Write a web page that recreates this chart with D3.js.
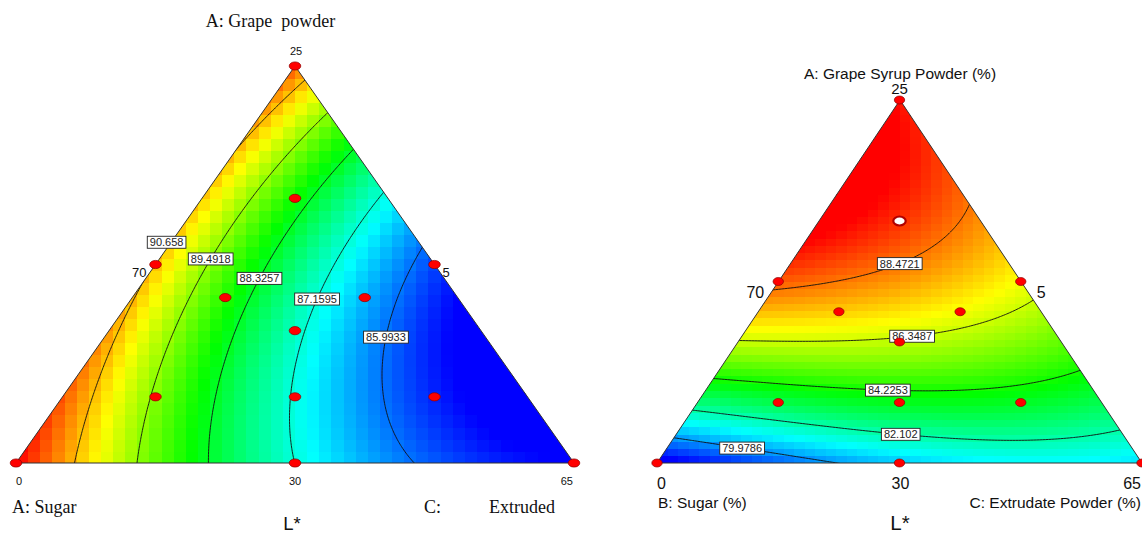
<!DOCTYPE html>
<html>
<head>
<meta charset="utf-8">
<title>L* ternary contour plots</title>
<script src="https://cdn.jsdelivr.net/npm/d3@7/dist/d3.min.js"></script>
<style>
  html, body { margin: 0; padding: 0; background: #fff; }
  svg { display: block; }
  text { white-space: pre; }
</style>
</head>
<body>
<svg id="chart" width="1142" height="533"></svg>
<script>
// ---------------- data ----------------
const responseName = "L*";
const titlesLeft = ["A: Grape  powder", "A: Sugar", "C:", "Extruded"];
const titlesRight = ["A: Grape Syrup Powder (%)", "B: Sugar (%)", "C: Extrudate Powder (%)"];

// vertex / edge-midpoint axis labels and their mixture position (A, C)
const tickText = ["25", "70", "5", "0", "30", "65"];
const tickA = [1, 0.5, 0.5, 0, 0, 0];
const tickC = [0, 0, 0.5, 0, 0.5, 1];

// mixture design runs (fractions of A and C, B is the remainder)
const designA = [1, 0.5, 0.5, 2/3, 5/12, 5/12, 1/3, 1/6, 1/6, 1/6, 0, 0, 0];
const designC = [0, 0, 0.5, 1/6, 1/6, 5/12, 1/3, 1/6, 5/12, 2/3, 0, 0.5, 1];
const openRunsRight = [3];

// contour levels
const levelsLeft = [90.658, 89.4918, 88.3257, 87.1595, 85.9933];
const levelsRight = [88.4721, 86.3487, 84.2253, 82.102, 79.9786];

// contour label placement (fractions of A and C)
const labelALeft = [0.556, 0.514, 0.465, 0.413, 0.317];
const labelCLeft = [0.0, 0.094, 0.204, 0.332, 0.505];
const labelARight = [0.563, 0.366, 0.214, 0.095, 0.053];
const labelCRight = [0.219, 0.343, 0.369, 0.455, 0.149];

// Scheffé cubic mixture model terms:
// A, B, C, AB, AC, BC, AB(A-B), AC(A-C), BC(B-C), ABC
const coefLeft = [91.199, 91.872, 85.277, -3.731, -10.123, -5.675, -0.700, 0.474, 0.139, 0.939];
const coefRight = [89.603, 77.821, 80.814, 20.145, 6.513, 4.819, -0.655, 0.754, -1.310, -1.473];

// response range spread over the colour ramp
const rampLeft = [85.26, 91.88];
const rampRight = [78.3, 89.8];

// ---------------- helpers ----------------
const svg = d3.select("#chart");
const ramp = ["#0000ff", "#00ffff", "#00ff00", "#ffff00", "#ff0000"];

function model(k, a, b, c) {
  const f = [a, b, c, a*b, a*c, b*c, a*b*(a-b), a*c*(a-c), b*c*(b-c), a*b*c];
  let s = 0;
  for (let i = 0; i < f.length; i++) s += k[i] * f[i];
  return s;
}

// ternary layout: A at the apex, B bottom-left, C bottom-right
function geometry(top, bl, br) {
  const xs = d3.scaleLinear().domain([0, 1]).range([bl[0], br[0]]);
  const ys = d3.scaleLinear().domain([0, 1]).range([bl[1], top[1]]);
  const proj = (a, c) => [xs(c + a / 2), ys(a)];
  const inv = (x, y) => { const a = ys.invert(y); const c = xs.invert(x) - a / 2; return [a, 1 - a - c, c]; };
  return {xs, ys, proj, inv, top, bl, br};
}

function drawPanel(cfg) {
  const g = cfg.g;
  const root = svg.append("g");
  const clipId = "clip-" + cfg.name;
  const triPts = [g.top, g.bl, g.br];
  root.append("clipPath").attr("id", clipId)
    .append("polygon").attr("points", triPts.map(p => p.join(",")).join(" "));

  const color = d3.scaleLinear()
    .domain(d3.range(5).map(i => cfg.ramp[0] + i * (cfg.ramp[1] - cfg.ramp[0]) / 4))
    .range(ramp).clamp(true);

  // shaded response cells
  const cells = [];
  const nx = Math.ceil((g.br[0] - g.bl[0]) / cfg.cellW);
  const ny = Math.ceil((g.bl[1] - g.top[1]) / cfg.cellH);
  for (let j = 0; j < ny; j++) for (let i = 0; i < nx; i++) {
    const x = g.bl[0] + i * cfg.cellW, y = g.bl[1] - (j + 1) * cfg.cellH;
    const v = model(cfg.coef, ...g.inv(x + cfg.cellW / 2, y + cfg.cellH / 2));
    cells.push({x, y, v});
  }
  const fillG = root.append("g").attr("clip-path", `url(#${clipId})`);
  fillG.selectAll("rect").data(cells).join("rect")
    .attr("x", d => d.x).attr("y", d => d.y)
    .attr("width", cfg.cellW + 0.6).attr("height", cfg.cellH + 0.6)
    .attr("fill", d => color(d.v))
    .attr("shape-rendering", "crispEdges");

  // contour lines
  const step = 1.5, m = 12;
  const x0 = g.bl[0] - m, y0 = g.top[1] - m;
  const gx = Math.ceil((g.br[0] - g.bl[0] + 2 * m) / step) + 1;
  const gy = Math.ceil((g.bl[1] - g.top[1] + 2 * m) / step) + 1;
  const vals = new Float64Array(gx * gy);
  for (let j = 0; j < gy; j++) for (let i = 0; i < gx; i++)
    vals[j * gx + i] = model(cfg.coef, ...g.inv(x0 + i * step, y0 + j * step));
  const contours = d3.contours().size([gx, gy]).thresholds(cfg.levels)(vals);
  const tr = d3.geoTransform({ point(x, y) { this.stream.point(x0 + (x - 0.5) * step, y0 + (y - 0.5) * step); } });
  fillG.append("g").selectAll("path").data(contours).join("path")
    .attr("d", d3.geoPath(tr))
    .attr("fill", "none").attr("stroke", "#111").attr("stroke-width", 0.9);

  // triangle outline
  root.append("polygon").attr("points", triPts.map(p => p.join(",")).join(" "))
    .attr("fill", "none").attr("stroke", "#333").attr("stroke-width", 1);

  // contour labels, snapped onto their line
  const valAt = (x, y) => model(cfg.coef, ...g.inv(x, y));
  cfg.levels.forEach((lv, i) => {
    const [px, py] = g.proj(cfg.labelA[i], cfg.labelC[i]);
    let best = null;
    [[1, 0], [0, 1]].forEach(([dx, dy]) => {
      let prevT = -25, prev = valAt(px - 25 * dx, py - 25 * dy) - lv;
      for (let t = -24.5; t <= 25; t += 0.5) {
        const cur = valAt(px + t * dx, py + t * dy) - lv;
        if ((prev <= 0 && cur > 0) || (prev >= 0 && cur < 0)) {
          const tt = prevT + (t - prevT) * prev / (prev - cur);
          if (!best || Math.abs(tt) < best.d) best = {d: Math.abs(tt), x: px + tt * dx, y: py + tt * dy};
        }
        prev = cur; prevT = t;
      }
    });
    const lx = best ? best.x : px, ly = best ? best.y : py;
    const lg = root.append("g").attr("transform", `translate(${lx},${ly})`);
    const rect = lg.append("rect");
    const t = lg.append("text").text(String(lv))
      .attr("text-anchor", "middle").attr("dy", "0.36em")
      .attr("font-family", "Liberation Sans, Arial, sans-serif").attr("font-size", 11)
      .attr("fill", "#222");
    const w = t.node().getComputedTextLength() + 5;
    rect.attr("x", -w / 2).attr("y", -6).attr("width", w).attr("height", 12)
      .attr("fill", "#fff").attr("stroke", "#222").attr("stroke-width", 0.9);
  });

  // design runs
  const runs = designA.map((a, i) => ({a, c: designC[i], open: cfg.open.includes(i)}));
  root.append("g").selectAll("ellipse").data(runs).join("ellipse")
    .attr("cx", d => g.proj(d.a, d.c)[0]).attr("cy", d => g.proj(d.a, d.c)[1])
    .attr("rx", d => d.open ? 6.2 : cfg.dot[0]).attr("ry", d => d.open ? 4.5 : cfg.dot[1])
    .attr("fill", d => d.open ? "#fff" : "#ff0000")
    .attr("stroke", d => d.open ? "#b00000" : "#8b0000")
    .attr("stroke-width", d => d.open ? 2.2 : 0.7);

  // vertex / midpoint labels
  tickText.forEach((s, i) => {
    const [px, py] = g.proj(tickA[i], tickC[i]);
    const o = cfg.tickStyle[i];
    root.append("text").text(s)
      .attr("x", px + o.dx).attr("y", py + o.dy)
      .attr("text-anchor", o.anchor)
      .attr("font-family", "Liberation Sans, Arial, sans-serif")
      .attr("font-size", o.size).attr("fill", "#111");
  });
  return root;
}

// ---------------- panels ----------------
const gLeft = geometry([295, 66], [16, 463], [574, 463]);
const gRight = geometry([900, 100], [657, 463], [1142, 463]);

drawPanel({
  name: "left", g: gLeft, coef: coefLeft, ramp: rampLeft, levels: levelsLeft,
  labelA: labelALeft, labelC: labelCLeft, open: [], cellW: 558 / 46, cellH: 397 / 33,
  dot: [5.8, 4.1],
  tickStyle: [
    {dx: 1, dy: -11, anchor: "middle", size: 11},
    {dx: -9, dy: 12, anchor: "end", size: 13},
    {dx: 8, dy: 12, anchor: "start", size: 13},
    {dx: 0, dy: 22, anchor: "start", size: 11},
    {dx: 0, dy: 22, anchor: "middle", size: 11},
    {dx: -1, dy: 22, anchor: "end", size: 11}
  ]
});
drawPanel({
  name: "right", g: gRight, coef: coefRight, ramp: rampRight, levels: levelsRight,
  labelA: labelARight, labelC: labelCRight, open: openRunsRight, cellW: 485 / 46, cellH: 363 / 50,
  dot: [5.2, 4],
  tickStyle: [
    {dx: 0, dy: -6.5, anchor: "middle", size: 15},
    {dx: -14, dy: 16, anchor: "end", size: 16},
    {dx: 16, dy: 16, anchor: "start", size: 16},
    {dx: 0, dy: 26, anchor: "start", size: 16},
    {dx: 1, dy: 26, anchor: "middle", size: 16},
    {dx: -1, dy: 26, anchor: "end", size: 16}
  ]
});

// ---------------- axis titles ----------------
const serif = "Liberation Serif, Times New Roman, serif";
const sans = "Liberation Sans, Arial, sans-serif";
svg.append("text").text(titlesLeft[0]).attr("x", 270.5).attr("y", 27)
  .attr("text-anchor", "middle").attr("font-family", serif).attr("font-size", 18).attr("fill", "#111");
svg.append("text").text(titlesLeft[1]).attr("x", 12).attr("y", 513)
  .attr("font-family", serif).attr("font-size", 18).attr("fill", "#111");
svg.append("text").text(titlesLeft[2]).attr("x", 424).attr("y", 513)
  .attr("font-family", serif).attr("font-size", 18).attr("fill", "#111");
svg.append("text").text(titlesLeft[3]).attr("x", 489).attr("y", 513)
  .attr("font-family", serif).attr("font-size", 18).attr("fill", "#111");
svg.append("text").text(responseName).attr("x", 292).attr("y", 530)
  .attr("text-anchor", "middle").attr("font-family", sans).attr("font-size", 18.5).attr("fill", "#111");

svg.append("text").text(titlesRight[0]).attr("x", 900).attr("y", 78.5)
  .attr("text-anchor", "middle").attr("font-family", sans).attr("font-size", 15.5).attr("fill", "#111");
svg.append("text").text(titlesRight[1]).attr("x", 658).attr("y", 508)
  .attr("font-family", sans).attr("font-size", 15.5).attr("fill", "#111");
svg.append("text").text(titlesRight[2]).attr("x", 1141).attr("y", 508)
  .attr("text-anchor", "end").attr("font-family", sans).attr("font-size", 15.5).attr("fill", "#111");
svg.append("text").text(responseName).attr("x", 900).attr("y", 529.5)
  .attr("text-anchor", "middle").attr("font-family", sans).attr("font-size", 20.5).attr("fill", "#111");
</script>
</body>
</html>
